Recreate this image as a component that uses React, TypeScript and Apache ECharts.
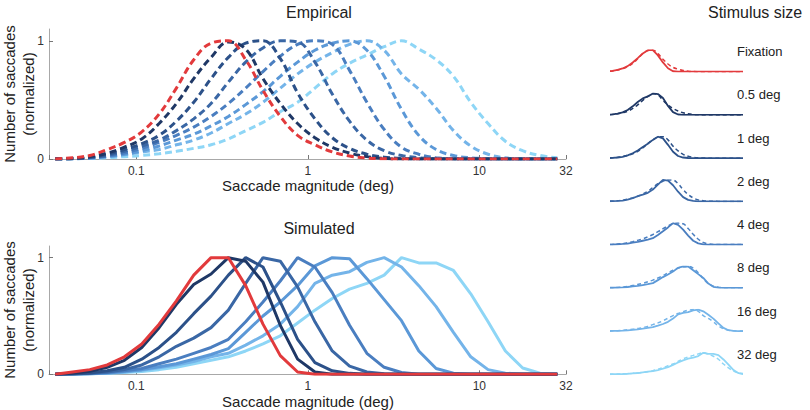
import React, { useEffect, useRef } from 'react';
import * as echarts from 'echarts';

// Bin centres of saccade magnitude (deg), log-spaced
const magnitudes = [0.0337, 0.0425, 0.0536, 0.0677, 0.0853, 0.1077, 0.1359, 0.1714, 0.2163, 0.2729, 0.3443, 0.4343, 0.5479, 0.6913, 0.8721, 1.1003, 1.3882, 1.7514, 2.2096, 2.7877, 3.517, 4.4372, 5.598, 7.0627, 8.9106, 11.242, 14.183, 17.894, 22.575, 28.482];

const conditions = ['Fixation', '0.5 deg', '1 deg', '2 deg', '4 deg', '8 deg', '16 deg', '32 deg'];
const colors = ['#e23a3c', '#1f3866', '#2c5189', '#3a67a5', '#4a7ec0', '#5b98d7', '#74b4e9', '#8ed6f6'];

// Empirical (normalized counts)
const empFixation = [0, 0.01, 0.03, 0.08, 0.14, 0.23, 0.38, 0.6, 0.84, 0.98, 1.0, 0.84, 0.58, 0.36, 0.2, 0.12, 0.06, 0.025, 0.008, 0.002, 0, 0, 0, 0, 0, 0, 0, 0, 0, 0];
const emp05 = [0, 0.005, 0.02, 0.05, 0.1, 0.17, 0.3, 0.47, 0.68, 0.86, 0.99, 0.93, 0.68, 0.47, 0.3, 0.18, 0.1, 0.05, 0.02, 0.005, 0, 0, 0, 0, 0, 0, 0, 0, 0, 0];
const emp1 = [0, 0.004, 0.015, 0.04, 0.08, 0.13, 0.2, 0.32, 0.48, 0.68, 0.86, 0.98, 1.0, 0.85, 0.56, 0.34, 0.18, 0.09, 0.04, 0.015, 0.005, 0, 0, 0, 0, 0, 0, 0, 0, 0];
const emp2 = [0, 0.003, 0.012, 0.03, 0.065, 0.11, 0.16, 0.24, 0.34, 0.47, 0.65, 0.82, 0.94, 1.0, 0.99, 0.82, 0.55, 0.32, 0.16, 0.07, 0.03, 0.01, 0.003, 0, 0, 0, 0, 0, 0, 0];
const emp4 = [0, 0.002, 0.01, 0.025, 0.05, 0.09, 0.14, 0.2, 0.27, 0.36, 0.47, 0.6, 0.74, 0.87, 0.97, 1.0, 0.97, 0.75, 0.48, 0.25, 0.1, 0.04, 0.01, 0.003, 0, 0, 0, 0, 0, 0];
const emp8 = [0, 0.002, 0.008, 0.02, 0.04, 0.07, 0.11, 0.16, 0.21, 0.28, 0.36, 0.46, 0.57, 0.7, 0.82, 0.92, 0.98, 1.0, 0.92, 0.7, 0.42, 0.2, 0.08, 0.03, 0.01, 0.003, 0, 0, 0, 0];
const emp16 = [0, 0.002, 0.007, 0.018, 0.035, 0.06, 0.08, 0.12, 0.16, 0.22, 0.3, 0.38, 0.48, 0.6, 0.72, 0.82, 0.9, 0.97, 1.0, 0.92, 0.72, 0.59, 0.43, 0.24, 0.11, 0.04, 0.01, 0, 0, 0];
const emp32 = [0, 0.002, 0.005, 0.01, 0.02, 0.03, 0.045, 0.065, 0.09, 0.12, 0.17, 0.24, 0.31, 0.4, 0.48, 0.6, 0.72, 0.81, 0.88, 0.95, 1.0, 0.93, 0.84, 0.7, 0.48, 0.3, 0.15, 0.07, 0.03, 0.01];

// Simulated (normalized counts)
const simFixation = [0, 0.02, 0.04, 0.08, 0.15, 0.26, 0.43, 0.63, 0.85, 1.0, 1.0, 0.76, 0.43, 0.16, 0.02, 0, 0, 0, 0, 0, 0, 0, 0, 0, 0, 0, 0, 0, 0, 0];
const sim05 = [0, 0.008, 0.025, 0.06, 0.12, 0.23, 0.4, 0.6, 0.77, 0.86, 1.0, 0.97, 0.79, 0.42, 0.13, 0.02, 0, 0, 0, 0, 0, 0, 0, 0, 0, 0, 0, 0, 0, 0];
const sim1 = [0, 0.004, 0.012, 0.03, 0.06, 0.13, 0.23, 0.36, 0.52, 0.67, 0.85, 1.0, 0.92, 0.62, 0.3, 0.1, 0.03, 0.008, 0, 0, 0, 0, 0, 0, 0, 0, 0, 0, 0, 0];
const sim2 = [0, 0.003, 0.008, 0.02, 0.04, 0.08, 0.15, 0.24, 0.31, 0.4, 0.55, 0.78, 1.0, 0.97, 0.75, 0.45, 0.2, 0.07, 0.02, 0.005, 0, 0, 0, 0, 0, 0, 0, 0, 0, 0];
const sim4 = [0, 0.002, 0.006, 0.015, 0.03, 0.05, 0.09, 0.13, 0.18, 0.23, 0.3, 0.45, 0.62, 0.8, 1.0, 0.92, 0.7, 0.42, 0.18, 0.06, 0.015, 0, 0, 0, 0, 0, 0, 0, 0, 0];
const sim8 = [0, 0.002, 0.005, 0.012, 0.025, 0.04, 0.065, 0.09, 0.13, 0.17, 0.22, 0.36, 0.5, 0.62, 0.76, 0.93, 1.0, 0.99, 0.82, 0.64, 0.46, 0.2, 0.05, 0.01, 0, 0, 0, 0, 0, 0];
const sim16 = [0, 0.002, 0.005, 0.01, 0.02, 0.035, 0.055, 0.08, 0.11, 0.15, 0.18, 0.25, 0.33, 0.43, 0.58, 0.78, 0.85, 0.88, 0.96, 1.0, 0.92, 0.76, 0.58, 0.36, 0.15, 0.04, 0.01, 0, 0, 0];
const sim32 = [0, 0.001, 0.004, 0.008, 0.015, 0.025, 0.04, 0.06, 0.09, 0.12, 0.15, 0.2, 0.26, 0.33, 0.44, 0.55, 0.65, 0.73, 0.78, 0.85, 1.0, 0.955, 0.955, 0.89, 0.69, 0.45, 0.2, 0.054, 0.01, 0];

const xTicks = [0.1, 1, 10, 32];
const yTicks = [0, 1];

const empirical = [empFixation, emp05, emp1, emp2, emp4, emp8, emp16, emp32];
const simulated = [simFixation, sim05, sim1, sim2, sim4, sim8, sim16, sim32];

const FONT = '"Liberation Sans", Arial, Helvetica, sans-serif';
const TXT = '#222';
const AXIS = '#a8a8a8';

function pairs(vals: number[]) {
  return magnitudes.map((m, k) => [m, vals[k]]);
}

function xLabel(v: number) {
  const m = xTicks.find((t) => Math.abs(Math.log10(v) - Math.log10(t)) < 0.01);
  return m === undefined ? '' : String(m);
}

export default function App() {
  const ref = useRef<HTMLDivElement>(null);
  useEffect(() => {
    if (!ref.current) return;
    const chart = echarts.init(ref.current, null, { renderer: 'svg' });

    const grids: any[] = [
      { left: 49, top: 29, width: 517, height: 130 },
      { left: 49, top: 246, width: 517, height: 128.3 },
    ];
    const xAxes: any[] = [];
    const yAxes: any[] = [];
    for (let g = 0; g < 2; g++) {
      xAxes.push({
        type: 'log', logBase: 10, gridIndex: g, min: 0.031, max: 32,
        axisLine: { show: true, lineStyle: { color: AXIS, width: 1 } },
        axisTick: { show: true, inside: true, length: 4, lineStyle: { color: '#777' } },
        axisLabel: { formatter: xLabel, color: '#333', fontSize: 12, fontFamily: FONT, margin: 6 },
        splitLine: { show: false }, minorTick: { show: false },
      });
      yAxes.push({
        type: 'value', gridIndex: g, min: 0, max: 1.1,
        axisLine: { show: true, lineStyle: { color: AXIS, width: 1 } },
        axisTick: { show: true, inside: true, length: 4, customValues: yTicks, lineStyle: { color: '#777' } },
        axisLabel: { customValues: yTicks, color: '#333', fontSize: 12, fontFamily: FONT, margin: 5 },
        splitLine: { show: false },
      });
    }
    const series: any[] = [];
    const order = [7, 6, 5, 4, 3, 2, 1, 0];
    order.forEach((i) => {
      series.push({
        type: 'line', xAxisIndex: 0, yAxisIndex: 0, data: pairs(empirical[i]),
        symbol: 'none', smooth: 0.4, silent: true,
        lineStyle: { color: colors[i], width: 3, type: [7, 4] },
      });
    });
    order.forEach((i) => {
      series.push({
        type: 'line', xAxisIndex: 1, yAxisIndex: 1, data: pairs(simulated[i]),
        symbol: 'none', silent: true,
        lineStyle: { color: colors[i], width: 3 },
      });
    });

    const graphic: any[] = [
      { type: 'text', x: 319, y: 12, style: { text: 'Empirical', font: `16px ${FONT}`, fill: TXT, textAlign: 'center', textVerticalAlign: 'middle' } },
      { type: 'text', x: 319, y: 228, style: { text: 'Simulated', font: `16px ${FONT}`, fill: TXT, textAlign: 'center', textVerticalAlign: 'middle' } },
      { type: 'text', x: 708, y: 12, style: { text: 'Stimulus size', font: `16px ${FONT}`, fill: TXT, textAlign: 'left', textVerticalAlign: 'middle' } },
      { type: 'text', x: 308, y: 185, style: { text: 'Saccade magnitude (deg)', font: `15px ${FONT}`, fill: TXT, textAlign: 'center', textVerticalAlign: 'middle' } },
      { type: 'text', x: 308, y: 401, style: { text: 'Saccade magnitude (deg)', font: `15px ${FONT}`, fill: TXT, textAlign: 'center', textVerticalAlign: 'middle' } },
    ];
    [94, 310].forEach((cy) => {
      graphic.push({ type: 'text', x: 9.5, y: cy, rotation: Math.PI / 2, style: { text: 'Number of saccades', font: `15px ${FONT}`, fill: TXT, textAlign: 'center', textVerticalAlign: 'middle' } });
      graphic.push({ type: 'text', x: 28, y: cy, rotation: Math.PI / 2, style: { text: '(normalized)', font: `15px ${FONT}`, fill: TXT, textAlign: 'center', textVerticalAlign: 'middle' } });
    });

    conditions.forEach((name, i) => {
      const base = 71.7 + 43.23 * i;
      const gi = grids.length;
      grids.push({ left: 611, width: 130, top: base - 21.5, height: 21.5 });
      xAxes.push({ type: 'log', logBase: 10, gridIndex: gi, min: 0.05, max: 20, show: false });
      yAxes.push({ type: 'value', gridIndex: gi, min: 0, max: 1, show: false });
      series.push({
        type: 'line', xAxisIndex: gi, yAxisIndex: gi, data: pairs(empirical[i]),
        symbol: 'none', smooth: 0.4, silent: true,
        lineStyle: { color: colors[i], width: 1.5, type: [4, 3] },
      });
      series.push({
        type: 'line', xAxisIndex: gi, yAxisIndex: gi, data: pairs(simulated[i]),
        symbol: 'none', silent: true,
        lineStyle: { color: colors[i], width: 1.8 },
      });
      graphic.push({ type: 'text', x: 737, y: base - 20, style: { text: name, font: `13px ${FONT}`, fill: TXT, textAlign: 'left', textVerticalAlign: 'middle' } });
    });

    chart.setOption({
      animation: false,
      backgroundColor: '#ffffff',
      grid: grids,
      xAxis: xAxes,
      yAxis: yAxes,
      series,
      graphic,
    });
    return () => chart.dispose();
  }, []);
  return <div ref={ref} style={{ position: 'fixed', left: 0, top: 0, width: 810, height: 410, background: '#fff' }} />;
}
